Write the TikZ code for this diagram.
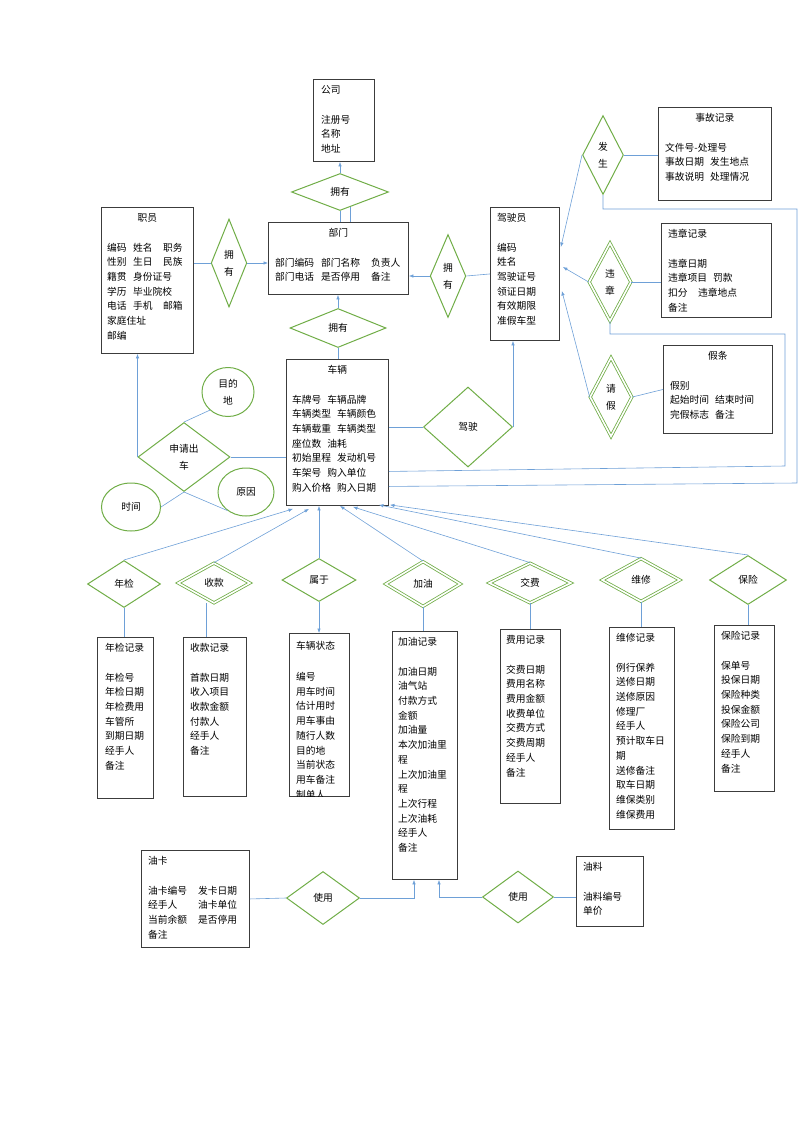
\documentclass[tikz,border=0pt]{standalone}
\usepackage{fontspec}
\setmainfont{Noto Sans CJK SC}
\usetikzlibrary{shapes.geometric,arrows.meta,calc}

\definecolor{lnblue}{RGB}{110,160,215}
\definecolor{rlgreen}{RGB}{112,173,71}
\definecolor{bxgray}{RGB}{60,60,60}

\newcommand\kg{\hspace{6pt}}
\newcommand\lc[2]{\makebox[#1pt][l]{#2}}

\tikzset{
  ent/.style={draw=bxgray, line width=0.9pt, anchor=north west, inner sep=0pt},
  hd/.style={anchor=base, inner sep=0pt, font=\fontsize{9.75}{14.7}\selectfont},
  bd/.style={anchor=base west, inner sep=0pt, text width=150pt, align=left, font=\fontsize{9.75}{14.7}\selectfont},
  rel/.style={diamond, draw=rlgreen, line width=1pt, inner sep=0pt, align=center, font=\fontsize{9.75}{17}\selectfont},
  relx/.style={rel, double=white, double distance=1.6pt, line width=0.8pt},
  att/.style={ellipse, draw=rlgreen, line width=1pt, inner sep=0pt, align=center, font=\fontsize{9.75}{17}\selectfont},
  link/.style={draw=lnblue, line width=0.6pt},
  arr/.style={link, -{Latex[length=4.5pt,width=3.5pt]}},
}

\begin{document}
\begin{tikzpicture}[x=1pt,y=-1pt]
  \useasboundingbox (0,0) rectangle (800,1132);

  \node[ent, minimum width=61, minimum height=82] (gs) at (313,79) {};
  \node[hd, anchor=base west] (gs-h) at ($(gs.north west)+(8,14.7)$) {公司};
  \node[bd] (gs-b) at ($(gs.north west)+(8,44.1)$) {注册号\\名称\\地址};

  \node[ent, minimum width=140, minimum height=72] (bm) at (268,222) {};
  \node[hd] (bm-h) at ($(bm.north)+(0,14.7)$) {部门};
  \node[bd] (bm-b) at ($(bm.north west)+(7,44.1)$) {\lc{46}{部门编码}\lc{50}{部门名称}负责人\\\lc{46}{部门电话}\lc{50}{是否停用}备注};

  \node[ent, minimum width=92, minimum height=146] (zy) at (101,207) {};
  \node[hd] (zy-h) at ($(zy.north)+(0,14.7)$) {职员};
  \node[bd] (zy-b) at ($(zy.north west)+(6,44.1)$) {\lc{26}{编码}\lc{30}{姓名}职务\\\lc{26}{性别}\lc{30}{生日}民族\\\lc{26}{籍贯}身份证号\\\lc{26}{学历}毕业院校\\\lc{26}{电话}\lc{30}{手机}邮箱\\家庭住址\\邮编};

  \node[ent, minimum width=102, minimum height=146] (cl) at (286,359) {};
  \node[hd] (cl-h) at ($(cl.north)+(0,14.7)$) {车辆};
  \node[bd] (cl-b) at ($(cl.north west)+(6,44.1)$) {车牌号\kg 车辆品牌\\车辆类型\kg 车辆颜色\\车辆载重\kg 车辆类型\\座位数\kg 油耗\\初始里程\kg 发动机号\\车架号\kg 购入单位\\购入价格\kg 购入日期};

  \node[ent, minimum width=69, minimum height=133] (jsy) at (490,207) {};
  \node[hd, anchor=base west] (jsy-h) at ($(jsy.north west)+(7,14.7)$) {驾驶员};
  \node[bd] (jsy-b) at ($(jsy.north west)+(7,44.1)$) {编码\\姓名\\驾驶证号\\领证日期\\有效期限\\准假车型};

  \node[ent, minimum width=113, minimum height=93] (sg) at (658,107) {};
  \node[hd] (sg-h) at ($(sg.north)+(0,14.7)$) {事故记录};
  \node[bd] (sg-b) at ($(sg.north west)+(7,44.1)$) {文件号-处理号\\事故日期\kg 发生地点\\事故说明\kg 处理情况};

  \node[ent, minimum width=110, minimum height=94] (wz) at (661,223) {};
  \node[hd, anchor=base west] (wz-h) at ($(wz.north west)+(7,14.7)$) {违章记录};
  \node[bd] (wz-b) at ($(wz.north west)+(7,44.1)$) {违章日期\\违章项目\kg 罚款\\扣分\hspace{10.5pt}违章地点\\备注};

  \node[ent, minimum width=109, minimum height=88] (jt) at (663,345) {};
  \node[hd] (jt-h) at ($(jt.north)+(0,14.7)$) {假条};
  \node[bd] (jt-b) at ($(jt.north west)+(7,44.1)$) {假别\\起始时间\kg 结束时间\\完假标志\kg 备注};

  \node[ent, minimum width=56, minimum height=161] (nj) at (97,637) {};
  \node[hd, anchor=base west] (nj-h) at ($(nj.north west)+(8,14.7)$) {年检记录};
  \node[bd] (nj-b) at ($(nj.north west)+(8,44.1)$) {年检号\\年检日期\\年检费用\\车管所\\到期日期\\经手人\\备注};

  \node[ent, minimum width=63, minimum height=159] (sk) at (183,637) {};
  \node[hd, anchor=base west] (sk-h) at ($(sk.north west)+(7,14.7)$) {收款记录};
  \node[bd] (sk-b) at ($(sk.north west)+(7,44.1)$) {首款日期\\收入项目\\收款金额\\付款人\\经手人\\备注};

  \node[ent, minimum width=60, minimum height=163] (zt) at (289,633) {};
  \begin{scope}
    \clip (zt.north west) rectangle (zt.south east);
    \node[hd, anchor=base west] (zt-h) at ($(zt.north west)+(7,16.5)$) {车辆状态};
    \node[bd] (zt-b) at ($(zt.north west)+(7,47.5)$) {编号\\用车时间\\估计用时\\用车事由\\随行人数\\目的地\\当前状态\\用车备注\\制单人};
  \end{scope}

  \node[ent, minimum width=65, minimum height=248] (jy) at (392,631) {};
  \node[hd, anchor=base west] (jy-h) at ($(jy.north west)+(6,14.7)$) {加油记录};
  \node[bd] (jy-b) at ($(jy.north west)+(6,44.1)$) {加油日期\\油气站\\付款方式\\金额\\加油量\\本次加油里\\程\\上次加油里\\程\\上次行程\\上次油耗\\经手人\\备注};

  \node[ent, minimum width=60, minimum height=174] (fy) at (500,629) {};
  \node[hd, anchor=base west] (fy-h) at ($(fy.north west)+(6,14.7)$) {费用记录};
  \node[bd] (fy-b) at ($(fy.north west)+(6,44.1)$) {交费日期\\费用名称\\费用金额\\收费单位\\交费方式\\交费周期\\经手人\\备注};

  \node[ent, minimum width=65, minimum height=202] (wx) at (609,627) {};
  \node[hd, anchor=base west] (wx-h) at ($(wx.north west)+(7,14.7)$) {维修记录};
  \node[bd] (wx-b) at ($(wx.north west)+(7,44.1)$) {例行保养\\送修日期\\送修原因\\修理厂\\经手人\\预计取车日\\期\\送修备注\\取车日期\\维保类别\\维保费用};

  \node[ent, minimum width=60, minimum height=166] (bx) at (714,625) {};
  \node[hd, anchor=base west] (bx-h) at ($(bx.north west)+(7,14.7)$) {保险记录};
  \node[bd] (bx-b) at ($(bx.north west)+(7,44.1)$) {保单号\\投保日期\\保险种类\\投保金额\\保险公司\\保险到期\\经手人\\备注};

  \node[ent, minimum width=108, minimum height=97] (yk) at (141,850) {};
  \node[hd, anchor=base west] (yk-h) at ($(yk.north west)+(7,14.7)$) {油卡};
  \node[bd] (yk-b) at ($(yk.north west)+(7,44.1)$) {\lc{50}{油卡编号}发卡日期\\\lc{50}{经手人}油卡单位\\\lc{50}{当前余额}是否停用\\备注};

  \node[ent, minimum width=67, minimum height=70] (yl) at (576,856) {};
  \node[hd, anchor=base west] (yl-h) at ($(yl.north west)+(7,14.7)$) {油料};
  \node[bd] (yl-b) at ($(yl.north west)+(7,44.1)$) {油料编号\\单价};

  \node[rel, minimum width=97, minimum height=37] (r1) at (340,192) {拥有};
  \node[rel, minimum width=35, minimum height=88] (r2) at (229,263) {拥\\有};
  \node[rel, minimum width=96, minimum height=39] (r3) at (338,328) {拥有};
  \node[rel, minimum width=32, minimum height=83] (r4) at (448,276) {拥\\有};
  \node[rel, minimum width=89, minimum height=80] (r5) at (468,427) {驾驶};
  \node[rel, minimum width=41, minimum height=79] (r6) at (603,155) {发\\生};
  \node[relx, minimum width=42, minimum height=78] (r7) at (610,282) {违\\章};
  \node[relx, minimum width=42, minimum height=79] (r8) at (611,397) {请\\假};
  \node[rel, minimum width=92, minimum height=69] (r9) at (184,457) {申请出\\车};
  \node[rel, minimum width=73, minimum height=47] (r10) at (124,584) {年检};
  \node[relx, minimum width=72, minimum height=40] (r11) at (214,583) {收款};
  \node[rel, minimum width=74, minimum height=43] (r12) at (319,580) {属于};
  \node[relx, minimum width=75, minimum height=45] (r13) at (423,584) {加油};
  \node[relx, minimum width=82, minimum height=40] (r14) at (530,583) {交费};
  \node[relx, minimum width=78, minimum height=43] (r15) at (641,580) {维修};
  \node[rel, minimum width=77, minimum height=49] (r16) at (748,580) {保险};
  \node[rel, minimum width=73, minimum height=53] (r17) at (323,898) {使用};
  \node[rel, minimum width=71, minimum height=52] (r18) at (518,897) {使用};

  \node[att, minimum width=52, minimum height=49] (e1) at (228,392) {目的\\地};
  \node[att, minimum width=56, minimum height=48] (e2) at (246,492) {原因};
  \node[att, minimum width=59, minimum height=48] (e3) at (131,507) {时间};

  \coordinate (r1a) at ($(r1.south)!0.2!(r1.east)$);
  \coordinate (tr1) at (797,209);
  \coordinate (tr2) at (797,483);
  \coordinate (tr3) at (785,334);
  \coordinate (tr4) at (785,466);

  \draw[arr] (r1.north) -- (r1.north |- gs.south);
  \draw[link] (r1.south) -- (r1.south |- bm.north);
  \draw[link] (r1a) -- (r1a |- bm.north);
  \draw[link] (r2.west -| zy.east) -- (r2.west);
  \draw[arr] (r2.east) -- (r2.east -| bm.west);
  \draw[arr] (r3.north) -- (r3.north |- bm.south);
  \draw[link] (r3.south) -- (r3.south |- cl.north);
  \draw[link] (jsy.west) -- (r4.east);
  \draw[arr] (r4.west) -- (r4.west -| bm.east);
  \draw[link] (r5.west -| cl.east) -- (r5.west);
  \draw[arr] (r5.east) -- (r5.east |- jsy.south);
  \draw[link] (r6.east) -- (r6.east -| sg.west);
  \draw[arr] (r6.west) -- ($(jsy.north east)+(1,40)$);
  \draw[arr] (r7.west) -- ($(jsy.north east)+(3,60)$);
  \draw[link] (r7.east) -- (r7.east -| wz.west);
  \draw[arr] (r8.west) -- ($(jsy.north east)+(2,84)$);
  \draw[link] (r8.east) -- (jt.west);
  \draw[link] (r6.south) |- (tr1) -- (tr2) -- ($(cl.east)+(0,54)$);
  \draw[link] (r7.south) |- (tr3) -- (tr4) -- ($(cl.east)+(0,39)$);

  \draw[link] (r9.east) -- (r9.east -| cl.west);
  \draw[arr] (r9.west) -- (r9.west |- zy.south);
  \draw[link] (e1.225) -- (r9.north);
  \draw[link] (r9.south) -- (e3.east);
  \draw[link] (r9.south) -- (e2.225);

  \draw[arr] (r10.north) -- ($(cl.south west)+(7,3)$);
  \draw[arr] (r11.north) -- ($(cl.south west)+(23,3)$);
  \draw[arr] (r12.north) -- (r12.north |- cl.south);
  \draw[arr] (r13.north) -- ($(cl.south west)+(54,0)$);
  \draw[arr] (r14.north) -- ($(cl.south west)+(67,1)$);
  \draw[arr] (r15.north) -- ($(cl.south east)+(-10,-1)$);
  \draw[arr] (r16.north) -- ($(cl.south east)+(1,-1)$);

  \draw[link] (r10.south) -- (r10.south |- nj.north);
  \draw[link] ($(r11.south)+(-8,0)$) -- ($(r11.south |- sk.north)+(-8,0)$);
  \draw[arr] (r12.south) -- (r12.south |- zt.north);
  \draw[link] (r13.south) -- (r13.south |- jy.north);
  \draw[link] (r14.south) -- (r14.south |- fy.north);
  \draw[link] (r15.south) -- (r15.south |- wx.north);
  \draw[link] (r16.south) -- (r16.south |- bx.north);

  \draw[link] (yk.east) -- (r17.west);
  \draw[arr] (r17.east) -| ($(jy.south west)+(22,0)$);
  \draw[link] (r18.east) -- (r18.east -| yl.west);
  \draw[arr] (r18.west) -| ($(jy.south west)+(47,0)$);
\end{tikzpicture}
\end{document}
